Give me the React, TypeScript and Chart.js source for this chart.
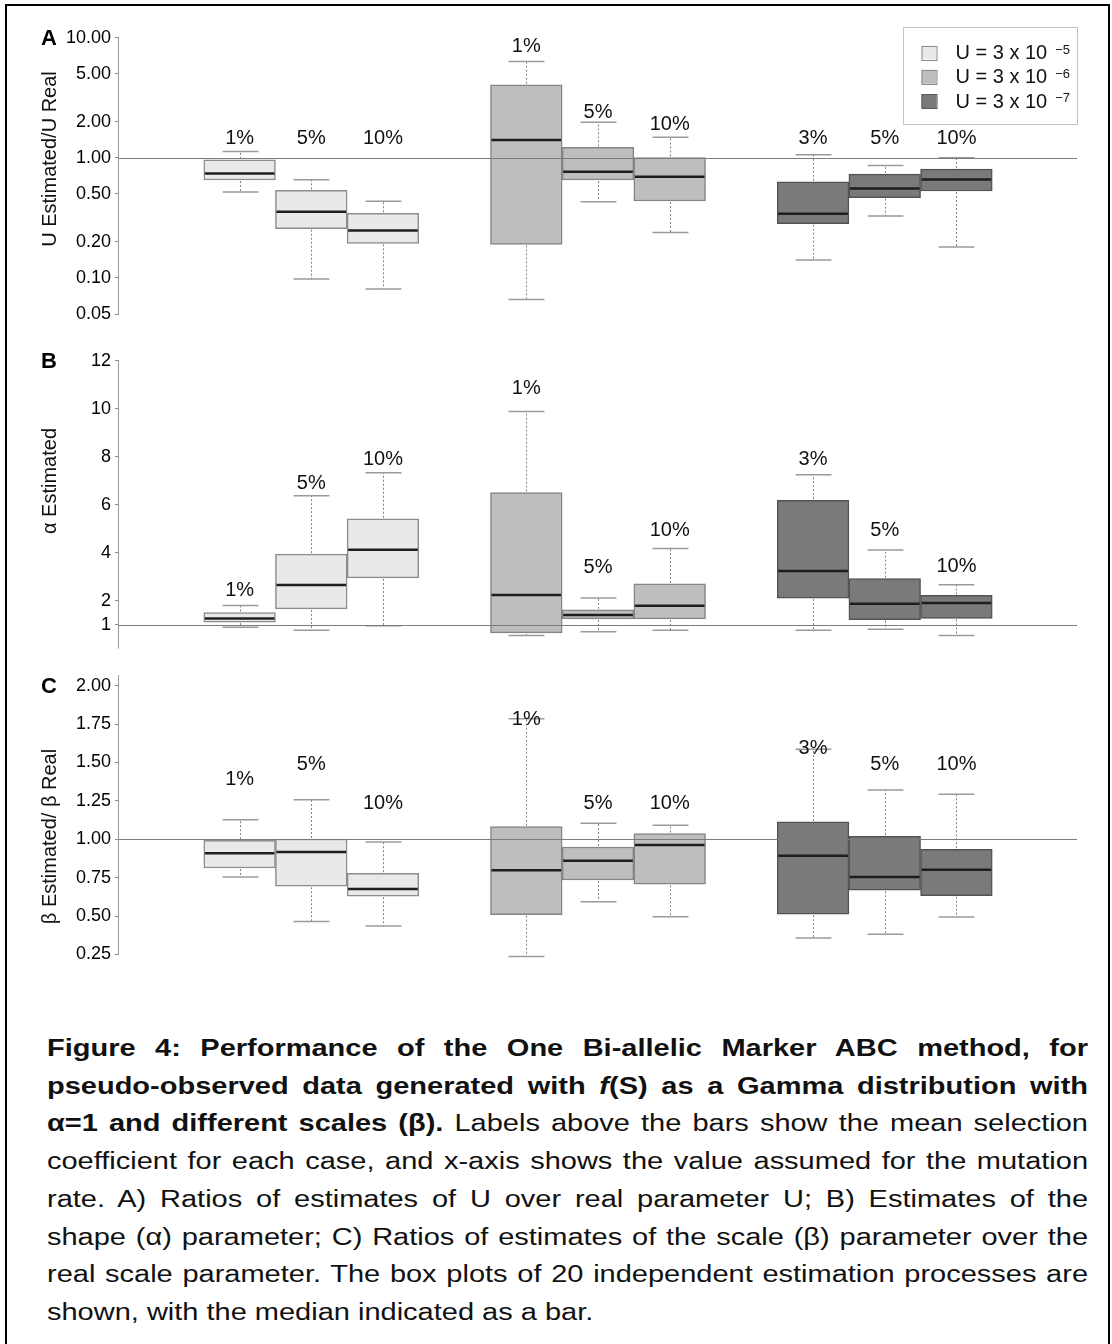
import React, { useEffect, useRef } from 'react';
import { Chart, registerables } from 'chart.js';

Chart.register(...registerables);

const FONT = '"Liberation Sans", Arial, Helvetica, sans-serif';

// ---- categories / series ----
const boxPositions = [1, 2, 3, 5, 6, 7, 9, 10, 11];
const boxSeries = [0, 0, 0, 1, 1, 1, 2, 2, 2];
const selectionLabels = ['1%', '5%', '10%', '1%', '5%', '10%', '3%', '5%', '10%'];
const seriesBase = ['U = 3 x 10', 'U = 3 x 10', 'U = 3 x 10'];
const seriesExp = ['\u22125', '\u22126', '\u22127'];
const seriesFill = ['#e9e9e9', '#bebebe', '#7a7a7a'];
const seriesEdge = ['#8c8c8c', '#858585', '#545454'];

// ---- panel A: U Estimated / U Real (log scale) ----
const aLow = [0.52, 0.098, 0.081, 0.066, 0.43, 0.239, 0.141, 0.328, 0.181];
const aQ1 = [0.653, 0.257, 0.194, 0.19, 0.653, 0.437, 0.283, 0.466, 0.529];
const aMed = [0.741, 0.356, 0.248, 1.41, 0.765, 0.696, 0.343, 0.556, 0.661];
const aQ3 = [0.962, 0.535, 0.345, 4.06, 1.22, 1.006, 0.632, 0.732, 0.805];
const aHigh = [1.128, 0.657, 0.434, 6.35, 1.98, 1.485, 1.06, 0.863, 1.0];
const aLabelY = [1.47, 1.47, 1.47, 8.66, 2.42, 1.94, 1.47, 1.47, 1.47];
const aTicks = [0.05, 0.1, 0.2, 0.5, 1, 2, 5, 10];

// ---- panel B: alpha Estimated ----
const bLow = [0.89, 0.77, 0.96, 0.55, 0.71, 0.77, 0.77, 0.81, 0.55];
const bQ1 = [1.11, 1.66, 2.95, 0.66, 1.24, 1.24, 2.11, 1.21, 1.26];
const bMed = [1.26, 2.66, 4.13, 2.24, 1.4, 1.79, 3.24, 1.87, 1.9];
const bQ3 = [1.51, 3.94, 5.42, 6.51, 1.62, 2.7, 6.19, 2.92, 2.22];
const bHigh = [1.8, 6.38, 7.34, 9.89, 2.11, 4.18, 7.25, 4.12, 2.67];
const bLabelY = [2.45, 6.94, 7.94, 10.91, 3.44, 4.96, 7.94, 4.96, 3.46];
const bTicks = [1, 2, 4, 6, 8, 10, 12];

// ---- panel C: beta Estimated / beta Real ----
const cLow = [0.755, 0.464, 0.436, 0.236, 0.594, 0.496, 0.357, 0.382, 0.494];
const cQ1 = [0.813, 0.694, 0.629, 0.509, 0.735, 0.707, 0.512, 0.668, 0.633];
const cMed = [0.909, 0.917, 0.676, 0.798, 0.861, 0.963, 0.893, 0.755, 0.802];
const cQ3 = [0.994, 1.002, 0.779, 1.082, 0.95, 1.037, 1.113, 1.02, 0.935];
const cHigh = [1.128, 1.258, 0.982, 1.785, 1.104, 1.091, 1.586, 1.321, 1.293];
const cLabelY = [1.397, 1.495, 1.241, 1.79, 1.238, 1.24, 1.596, 1.495, 1.495];
const cTicks = [0.25, 0.5, 0.75, 1, 1.25, 1.5, 1.75, 2];

type Panel = {
  key: string;
  letter: string;
  title: string;
  yType: 'linear' | 'logarithmic';
  yMin: number;
  yMax: number;
  ticks: number[];
  fmt: (v: number) => string;
  axisFrom: number;
  axisTo: number;
  low: number[];
  q1: number[];
  med: number[];
  q3: number[];
  high: number[];
  labelY: number[];
  top: number;
  height: number;
  padTop: number;
  padBottom: number;
  titleY: number;
  legend: boolean;
};

const panels: Panel[] = [
  {
    key: 'A', letter: 'A', title: 'U Estimated/U Real', yType: 'logarithmic',
    yMin: 0.0404, yMax: 12.37, ticks: aTicks, fmt: (v) => v.toFixed(2),
    axisFrom: 0.05, axisTo: 10,
    low: aLow, q1: aQ1, med: aMed, q3: aQ3, high: aHigh, labelY: aLabelY,
    top: 0, height: 340, padTop: 26.6, padBottom: 14, titleY: 159, legend: true,
  },
  {
    key: 'B', letter: 'B', title: '\u03b1 Estimated', yType: 'linear',
    yMin: -0.48, yMax: 12.48, ticks: bTicks, fmt: (v) => String(v),
    axisFrom: 0, axisTo: 12,
    low: bLow, q1: bQ1, med: bMed, q3: bQ3, high: bHigh, labelY: bLabelY,
    top: 330, height: 345, padTop: 19.4, padBottom: 12.6, titleY: 151, legend: false,
  },
  {
    key: 'C', letter: 'C', title: '\u03b2 Estimated/ \u03b2 Real', yType: 'linear',
    yMin: 0.18, yMax: 2.07, ticks: cTicks, fmt: (v) => v.toFixed(2),
    axisFrom: 0.25, axisTo: 2.07,
    low: cLow, q1: cQ1, med: cMed, q3: cQ3, high: cHigh, labelY: cLabelY,
    top: 660, height: 320, padTop: 15, padBottom: 14.2, titleY: 176.5, legend: false,
  },
];

function makeExtras(p: Panel) {
  return {
    id: 'boxExtras' + p.key,
    afterDatasetsDraw(chart: any) {
      const ctx: CanvasRenderingContext2D = chart.ctx;
      const area = chart.chartArea;
      const xs = chart.scales.x;
      const ys = chart.scales.y;
      ctx.save();

      boxPositions.forEach((pos, i) => {
        const cx = Math.round(xs.getPixelForValue(pos)) + 0.5;
        const left = xs.getPixelForValue(pos - 0.5);
        const right = xs.getPixelForValue(pos + 0.5);
        const capHalf = (right - left) / 4;
        const yLow = ys.getPixelForValue(p.low[i]);
        const yQ1 = ys.getPixelForValue(p.q1[i]);
        const yMed = ys.getPixelForValue(p.med[i]);
        const yQ3 = ys.getPixelForValue(p.q3[i]);
        const yHigh = ys.getPixelForValue(p.high[i]);

        // whiskers (dotted)
        ctx.strokeStyle = '#808080';
        ctx.lineWidth = 1;
        ctx.setLineDash([2, 2]);
        ctx.beginPath();
        ctx.moveTo(cx, yQ3 - 1);
        ctx.lineTo(cx, yHigh);
        ctx.moveTo(cx, yQ1 + 1);
        ctx.lineTo(cx, yLow);
        ctx.stroke();
        ctx.setLineDash([]);

        // staples
        ctx.strokeStyle = '#9a9a9a';
        ctx.lineWidth = 1.5;
        ctx.beginPath();
        ctx.moveTo(cx - capHalf, yHigh);
        ctx.lineTo(cx + capHalf, yHigh);
        ctx.moveTo(cx - capHalf, yLow);
        ctx.lineTo(cx + capHalf, yLow);
        ctx.stroke();

        // median
        ctx.strokeStyle = '#1e1e1e';
        ctx.lineWidth = 2.5;
        ctx.beginPath();
        ctx.moveTo(left + 1, yMed);
        ctx.lineTo(right - 1, yMed);
        ctx.stroke();
      });

      // reference line at 1
      const y1 = Math.round(ys.getPixelForValue(1)) + 0.5;
      ctx.strokeStyle = '#7c7c7c';
      ctx.lineWidth = 1.2;
      ctx.beginPath();
      ctx.moveTo(area.left, y1);
      ctx.lineTo(area.right, y1);
      ctx.stroke();

      // axis line (R style: spans only the tick range)
      const ax = Math.round(area.left) - 0.5;
      ctx.strokeStyle = '#9a9a9a';
      ctx.lineWidth = 1;
      ctx.beginPath();
      ctx.moveTo(ax, ys.getPixelForValue(p.axisFrom));
      ctx.lineTo(ax, ys.getPixelForValue(p.axisTo));
      ctx.stroke();

      // selection labels above the boxes
      ctx.fillStyle = '#111';
      ctx.font = '20px ' + FONT;
      ctx.textAlign = 'center';
      ctx.textBaseline = 'middle';
      boxPositions.forEach((pos, i) => {
        ctx.fillText(selectionLabels[i], xs.getPixelForValue(pos), ys.getPixelForValue(p.labelY[i]) + 1);
      });

      // panel letter
      ctx.font = 'bold 22px ' + FONT;
      ctx.textAlign = 'left';
      ctx.textBaseline = 'middle';
      ctx.fillStyle = '#000';
      ctx.fillText(p.letter, 41, ys.getPixelForValue(p.ticks[p.ticks.length - 1]) + 1);

      // axis title (rotated)
      ctx.save();
      ctx.translate(55.5, p.titleY);
      ctx.rotate(-Math.PI / 2);
      ctx.font = '20px ' + FONT;
      ctx.textAlign = 'center';
      ctx.textBaseline = 'alphabetic';
      ctx.fillStyle = '#111';
      ctx.fillText(p.title, 0, 0);
      ctx.restore();

      // legend
      if (p.legend) {
        const right = area.right + 0.5;
        const top = Math.round(area.top) + 0.5;
        const lx = right - 174;
        ctx.strokeStyle = '#c4c4c4';
        ctx.lineWidth = 1;
        ctx.strokeRect(lx, top, 174, 97);
        const rows = [25, 49.3, 73.5];
        seriesBase.forEach((txt, s) => {
          const ry = top + rows[s];
          ctx.fillStyle = seriesFill[s];
          ctx.fillRect(right - 156, ry - 7, 15, 14);
          ctx.strokeStyle = s === 2 ? '#5a5a5a' : '#8c8c8c';
          ctx.lineWidth = 1;
          ctx.strokeRect(right - 156 + 0.5, Math.round(ry - 7) + 0.5, 15, 14);
          ctx.fillStyle = '#111';
          ctx.font = '20px ' + FONT;
          ctx.textAlign = 'left';
          ctx.textBaseline = 'middle';
          const tx = right - 122;
          ctx.fillText(txt, tx, ry + 1);
          const w = ctx.measureText(txt).width;
          ctx.font = '13px ' + FONT;
          ctx.textBaseline = 'alphabetic';
          ctx.fillText(seriesExp[s], tx + w + 8, ry + 1);
        });
      }

      ctx.restore();
    },
  };
}

function BoxPanel({ panel }: { panel: Panel }) {
  const ref = useRef<HTMLCanvasElement>(null);
  useEffect(() => {
    const p = panel;
    const datasets = [0, 1, 2].map((s) => ({
      type: 'bar' as const,
      label: seriesBase[s] + ' ' + seriesExp[s],
      data: boxPositions
        .map((x, i) => ({ x, y: [p.q1[i], p.q3[i]], s: boxSeries[i] }))
        .filter((d) => d.s === s)
        .map((d) => ({ x: d.x, y: d.y })),
      backgroundColor: seriesFill[s],
      borderColor: seriesEdge[s],
      borderWidth: 1.5,
      borderSkipped: false,
      grouped: false,
      barPercentage: 1,
      categoryPercentage: 1,
    }));
    const chart = new Chart(ref.current as HTMLCanvasElement, {
      type: 'bar',
      data: { datasets: datasets as any },
      options: {
        responsive: false,
        animation: false,
        devicePixelRatio: 1,
        events: [],
        layout: { padding: { left: 0, right: 35, top: p.padTop, bottom: p.padBottom } },
        plugins: {
          legend: { display: false },
          tooltip: { enabled: false },
          title: { display: false },
        },
        scales: {
          x: {
            type: 'linear',
            min: 0.06,
            max: 11.94,
            display: false,
            afterBuildTicks: (s: any) => {
              s.ticks = boxPositions.map((v) => ({ value: v }));
            },
          },
          y: {
            type: p.yType,
            min: p.yMin,
            max: p.yMax,
            afterBuildTicks: (s: any) => {
              s.ticks = p.ticks.map((v) => ({ value: v }));
            },
            afterFit: (s: any) => {
              s.width = 119;
            },
            ticks: {
              autoSkip: false,
              maxRotation: 0,
              padding: 4,
              color: '#000',
              font: { family: FONT, size: 18 },
              callback: (v: any) => p.fmt(Number(v)),
            },
            grid: {
              drawOnChartArea: false,
              drawTicks: true,
              tickLength: 4,
              color: '#8a8a8a',
            },
            border: { display: false },
          },
        } as any,
      },
      plugins: [makeExtras(p)],
    });
    return () => chart.destroy();
  }, [panel]);
  return (
    <canvas
      ref={ref}
      width={1112}
      height={panel.height}
      style={{ position: 'absolute', left: 0, top: panel.top, width: 1112, height: panel.height }}
    />
  );
}

export default function App() {
  return (
    <div
      style={{
        position: 'absolute',
        left: 0,
        top: 0,
        width: 1112,
        height: 1344,
        overflow: 'hidden',
        background: '#fff',
      }}
    >
      <div
        style={{
          position: 'absolute',
          left: 5,
          top: 4,
          width: 1105,
          height: 1400,
          boxSizing: 'border-box',
          border: '2.5px solid #000',
        }}
      />
      {panels.map((p) => (
        <BoxPanel key={p.key} panel={p} />
      ))}
      <div
        style={{
          position: 'absolute',
          left: 47,
          top: 1030,
          width: 826,
          fontFamily: FONT,
          fontSize: 23,
          lineHeight: '37.7px',
          textAlign: 'justify',
          color: '#111',
          transform: 'scaleX(1.2603)',
          transformOrigin: '0 0',
        }}
      >
        <b>
          Figure 4: Performance of the One Bi-allelic Marker ABC method, for pseudo-observed data generated with{' '}
          <i>f</i>(S) as a Gamma distribution with {'\u03b1'}=1 and different scales ({'\u03b2'}).
        </b>{' '}
        Labels above the bars show the mean selection coefficient for each case, and x-axis shows the value assumed
        for the mutation rate. A) Ratios of estimates of U over real parameter U; B) Estimates of the shape ({'\u03b1'})
        parameter; C) Ratios of estimates of the scale ({'\u03b2'}) parameter over the real scale parameter. The box
        plots of 20 independent estimation processes are shown, with the median indicated as a bar.
      </div>
    </div>
  );
}
